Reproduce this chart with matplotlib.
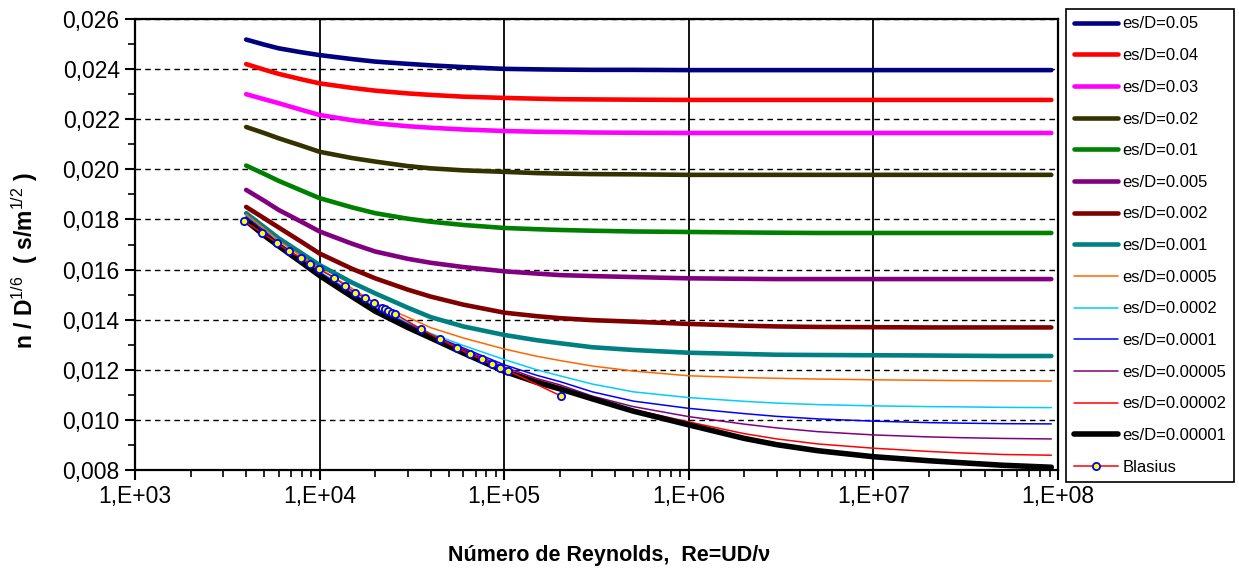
import matplotlib
matplotlib.use("Agg")
import matplotlib.pyplot as plt
from matplotlib.ticker import FixedLocator, FuncFormatter, NullFormatter, MultipleLocator
import numpy as np

plt.rcParams['font.family'] = ['Liberation Sans', 'DejaVu Sans']
plt.rcParams['mathtext.fontset'] = 'custom'
plt.rcParams['mathtext.rm'] = 'Liberation Sans'
plt.rcParams['mathtext.bf'] = 'Liberation Sans:bold'

# Reynolds numbers where the curves were sampled
re_grid = [4e3, 5e3, 6e3, 8e3, 1e4, 1.5e4, 2e4, 3e4, 4e4, 6e4, 1e5, 1.5e5, 2e5, 3e5, 5e5,
           1e6, 2e6, 3e6, 5e6, 1e7, 2e7, 3e7, 5e7, 9.2e7]

# n / D^(1/6) for each relative roughness es/D
n_005 = [0.02518, 0.02498, 0.02483, 0.02467, 0.02456, 0.02440, 0.02430, 0.02421, 0.02415, 0.02408,
         0.02401, 0.02399, 0.02398, 0.02397, 0.02397, 0.02396, 0.02396, 0.02396, 0.02396, 0.02396,
         0.02396, 0.02396, 0.02396, 0.02396]
n_004 = [0.02420, 0.02398, 0.02381, 0.02359, 0.02343, 0.02325, 0.02314, 0.02303, 0.02297, 0.02290,
         0.02285, 0.02282, 0.02280, 0.02279, 0.02278, 0.02277, 0.02277, 0.02277, 0.02277, 0.02277,
         0.02277, 0.02277, 0.02277, 0.02277]
n_003 = [0.02300, 0.02280, 0.02264, 0.02237, 0.02217, 0.02196, 0.02184, 0.02172, 0.02166, 0.02159,
         0.02153, 0.02150, 0.02149, 0.02147, 0.02146, 0.02145, 0.02145, 0.02145, 0.02145, 0.02145,
         0.02145, 0.02145, 0.02145, 0.02145]
n_002 = [0.02169, 0.02145, 0.02124, 0.02094, 0.02070, 0.02045, 0.02031, 0.02013, 0.02004, 0.01996,
         0.01990, 0.01985, 0.01983, 0.01981, 0.01980, 0.01978, 0.01978, 0.01978, 0.01978, 0.01978,
         0.01978, 0.01978, 0.01978, 0.01978]
n_001 = [0.02015, 0.01982, 0.01954, 0.01915, 0.01885, 0.01848, 0.01825, 0.01803, 0.01791, 0.01778,
         0.01766, 0.01761, 0.01758, 0.01755, 0.01752, 0.01750, 0.01748, 0.01747, 0.01746, 0.01746,
         0.01746, 0.01746, 0.01746, 0.01746]
n_0005 = [0.01918, 0.01875, 0.01838, 0.01790, 0.01752, 0.01703, 0.01672, 0.01643, 0.01627, 0.01610,
          0.01593, 0.01584, 0.01578, 0.01574, 0.01570, 0.01565, 0.01563, 0.01562, 0.01562, 0.01562,
          0.01562, 0.01562, 0.01562, 0.01562]
n_0002 = [0.01850, 0.01805, 0.01768, 0.01710, 0.01664, 0.01603, 0.01565, 0.01520, 0.01492, 0.01460,
          0.01428, 0.01414, 0.01406, 0.01398, 0.01392, 0.01383, 0.01376, 0.01373, 0.01371, 0.01370,
          0.01369, 0.01369, 0.01369, 0.01369]
n_0001 = [0.01825, 0.01770, 0.01725, 0.01665, 0.01618, 0.01548, 0.01505, 0.01448, 0.01410, 0.01373,
          0.01339, 0.01318, 0.01306, 0.01290, 0.01279, 0.01268, 0.01263, 0.01260, 0.01259, 0.01258,
          0.01257, 0.01256, 0.01255, 0.01255]
n_00005 = [0.01820, 0.01764, 0.01716, 0.01652, 0.01603, 0.01525, 0.01466, 0.01410, 0.01368, 0.01327,
           0.01283, 0.01254, 0.01237, 0.01215, 0.01195, 0.01176, 0.01169, 0.01166, 0.01163, 0.01160,
           0.01158, 0.01157, 0.01156, 0.01155]
n_00002 = [0.01812, 0.01756, 0.01708, 0.01642, 0.01592, 0.01510, 0.01450, 0.01388, 0.01345, 0.01297,
           0.01241, 0.01200, 0.01176, 0.01143, 0.01112, 0.01089, 0.01074, 0.01067, 0.01061, 0.01056,
           0.01053, 0.01052, 0.01050, 0.01049]
n_00001 = [0.01810, 0.01754, 0.01705, 0.01638, 0.01588, 0.01505, 0.01445, 0.01383, 0.01340, 0.01287,
           0.01220, 0.01178, 0.01153, 0.01112, 0.01075, 0.01046, 0.01025, 0.01014, 0.01004, 0.00995,
           0.00989, 0.00987, 0.00985, 0.00984]
n_000005 = [0.01807, 0.01751, 0.01702, 0.01635, 0.01584, 0.01501, 0.01441, 0.01380, 0.01337, 0.01282,
            0.01211, 0.01165, 0.01140, 0.01095, 0.01053, 0.01013, 0.00983, 0.00968, 0.00953, 0.00940,
            0.00932, 0.00929, 0.00926, 0.00924]
n_000002 = [0.01803, 0.01748, 0.01699, 0.01632, 0.01580, 0.01497, 0.01437, 0.01377, 0.01334, 0.01278,
            0.01202, 0.01160, 0.01133, 0.01085, 0.01041, 0.00992, 0.00945, 0.00924, 0.00904, 0.00887,
            0.00874, 0.00868, 0.00862, 0.00859]
n_000001 = [0.01795, 0.01737, 0.01694, 0.01628, 0.01576, 0.01492, 0.01434, 0.01369, 0.01327, 0.01267,
            0.01194, 0.01150, 0.01124, 0.01084, 0.01035, 0.00980, 0.00926, 0.00901, 0.00877, 0.00853,
            0.00837, 0.00829, 0.00819, 0.00811]

# Blasius points (smooth pipe)
re_blasius = [3900, 4900, 5900, 6800, 7900, 8900, 9900, 12000, 13800, 15600, 17700, 19700,
              21800, 22700, 23600, 24600, 25700, 35600, 45000, 55200, 65000, 75500, 85500,
              94500, 105000, 202000]
n_blasius = [0.01793, 0.01746, 0.01706, 0.01673, 0.01648, 0.01621, 0.01602, 0.01568, 0.01535,
             0.01507, 0.01488, 0.01468, 0.01448, 0.01442, 0.01435, 0.01428, 0.01422, 0.01362,
             0.01322, 0.01288, 0.01262, 0.01242, 0.01222, 0.01209, 0.01196, 0.01096]

labels = ['es/D=0.05', 'es/D=0.04', 'es/D=0.03', 'es/D=0.02', 'es/D=0.01', 'es/D=0.005',
          'es/D=0.002', 'es/D=0.001', 'es/D=0.0005', 'es/D=0.0002', 'es/D=0.0001',
          'es/D=0.00005', 'es/D=0.00002', 'es/D=0.00001']
series = [n_005, n_004, n_003, n_002, n_001, n_0005, n_0002, n_0001, n_00005, n_00002,
          n_00001, n_000005, n_000002, n_000001]
colors = ['#000080', '#FF0000', '#FF00FF', '#333300', '#008000', '#800080', '#800000',
          '#008080', '#FF6600', '#00CCFF', '#0000FF', '#800080', '#FF0000', '#000000']
widths = [3.3, 3.3, 3.3, 3.3, 3.3, 3.3, 3.3, 3.3, 1.1, 1.1, 1.1, 1.1, 1.1, 4.0]

fig = plt.figure(figsize=(12.39, 5.68), dpi=100)
ax = fig.add_axes([135 / 1239, 1 - 470 / 568, (1058 - 135) / 1239, (470 - 19) / 568])

for vals, lab, col, lw in zip(series, labels, colors, widths):
    ax.plot(re_grid, vals, color=col, lw=lw, label=lab, solid_capstyle='round',
            solid_joinstyle='round')

ax.plot(re_blasius, n_blasius, color='#FF0000', lw=1.1, marker='o', markersize=5.2,
        markerfacecolor='#FFFF00', markeredgecolor='#0000FF', markeredgewidth=1.3,
        label='Blasius')

ax.set_xscale('log')
ax.set_xlim(1e3, 1e8)
ax.set_ylim(0.008, 0.026)

ax.xaxis.set_major_locator(FixedLocator([1e3, 1e4, 1e5, 1e6, 1e7, 1e8]))
ax.xaxis.set_major_formatter(FuncFormatter(lambda v, p: '1,E+%02d' % int(round(np.log10(v)))))
ax.xaxis.set_minor_formatter(NullFormatter())
ax.yaxis.set_major_locator(MultipleLocator(0.002))
ax.yaxis.set_minor_locator(MultipleLocator(0.001))
ax.yaxis.set_major_formatter(FuncFormatter(lambda v, p: ('%.3f' % v).replace('.', ',')))

ax.tick_params(which='major', direction='out', length=7, width=1.5, labelsize=16.5, pad=4)
ax.tick_params(which='minor', direction='out', length=5, width=1.2)
for s in ax.spines.values():
    s.set_linewidth(1.6)

# grid: solid verticals at decades, dashed horizontals at major y ticks
ax.grid(True, which='major', axis='x', color='black', lw=1.3, ls='-')
ax.grid(True, which='major', axis='y', color='black', lw=1.0, ls=(0, (4, 3)))
ax.set_axisbelow(True)

fig.text(25 / 1239, 1 - 261 / 568, r'n / D$^{\rm 1/6}$  ( s/m$^{\rm 1/2}$ )', rotation=90,
         ha='center', va='center', fontsize=16.5, fontweight='bold')
fig.text(609 / 1239, 1 - 555 / 568, 'Número de Reynolds,  Re=UD/ν', ha='center', va='center',
         fontsize=15.5, fontweight='bold')

leg = fig.legend(loc='upper left', bbox_to_anchor=(1066 / 1239, 1 - 9 / 568),
                 fontsize=12, handlelength=2.65, handletextpad=0.3, labelspacing=1.0,
                 borderpad=0.45, borderaxespad=0, fancybox=False, framealpha=1,
                 edgecolor='black', numpoints=1)
leg.get_frame().set_linewidth(1.2)

fig.savefig('out.png', dpi=100)
